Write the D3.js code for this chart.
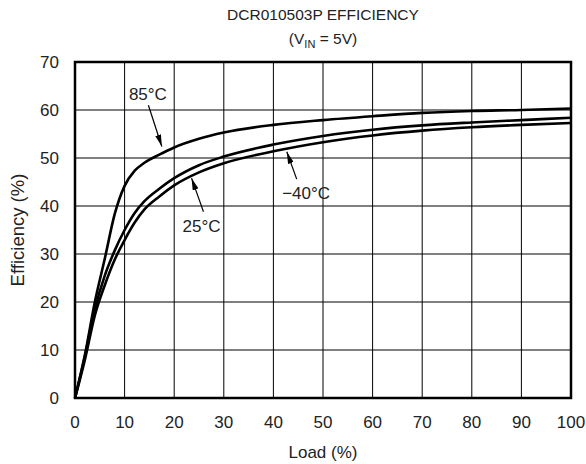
<!DOCTYPE html>
<html>
<head>
<meta charset="utf-8">
<script src="https://cdn.jsdelivr.net/npm/d3@7"></script>
<style>
  body { margin: 0; background: #fff; }
  text { font-family: "Liberation Sans", Arial, Helvetica, sans-serif; fill: #222; }
</style>
</head>
<body>
<div id="chart"></div>
<script>
/* Data */
const loads = [0, 2, 4, 6, 8, 10, 12, 14, 17, 20, 25, 30, 40, 50, 60, 70, 80, 90, 100];
const eff85 = [0, 9, 20, 29, 38.3, 44.2, 47.3, 49.0, 50.7, 52.2, 54, 55.3, 56.9, 57.9, 58.7, 59.4, 59.8, 60.0, 60.3];
const effM40 = [0, 8.7, 18.5, 25.5, 30.7, 35, 38.5, 41, 43.6, 45.8, 48.5, 50.3, 52.8, 54.6, 55.9, 56.8, 57.4, 57.9, 58.4];
const eff25 = [0, 8, 17.2, 23.5, 28.8, 32.9, 36.5, 39.3, 42, 44.3, 47, 48.9, 51.4, 53.3, 54.7, 55.7, 56.4, 56.9, 57.3];
const xTicks = [0, 10, 20, 30, 40, 50, 60, 70, 80, 90, 100];
const yTicks = [0, 10, 20, 30, 40, 50, 60, 70];

/* Annotation labels: text anchor point and arrow (from -> to), in data units */
const labels = ["85°C", "25°C", "\u221240°C"];
const labelPos = [[14.7, 62.1], [25.5, 34.6], [46.6, 41.4]];
const arrowFrom = [[14.8, 61.0], [25.9, 38.8], [44.7, 45.6]];
const arrowTo = [[17.5, 52.4], [23.5, 45.8], [42.7, 51.3]];

const W = 586, H = 464;
const margin = { left: 75, top: 62, right: 15, bottom: 66 };

const x = d3.scaleLinear().domain([0, 100]).range([margin.left, W - margin.right]);
const y = d3.scaleLinear().domain([0, 70]).range([H - margin.bottom, margin.top]);

const svg = d3.select("#chart").append("svg")
    .attr("width", W)
    .attr("height", H);

svg.append("defs").append("marker")
    .attr("id", "arrow")
    .attr("viewBox", "0 0 12 6")
    .attr("refX", 12)
    .attr("refY", 3)
    .attr("markerWidth", 12)
    .attr("markerHeight", 6)
    .attr("markerUnits", "userSpaceOnUse")
    .attr("orient", "auto")
    .append("path")
    .attr("d", "M0,0 L12,3 L0,6 Z")
    .attr("fill", "#000");

/* Grid */
svg.append("g").selectAll("line")
    .data(xTicks.slice(1, -1))
    .enter().append("line")
    .attr("x1", d => x(d)).attr("x2", d => x(d))
    .attr("y1", y(0)).attr("y2", y(70))
    .attr("stroke", "#000").attr("stroke-width", 1);

svg.append("g").selectAll("line")
    .data(yTicks.slice(1, -1))
    .enter().append("line")
    .attr("x1", x(0)).attr("x2", x(100))
    .attr("y1", d => y(d)).attr("y2", d => y(d))
    .attr("stroke", "#000").attr("stroke-width", 1);

/* Curves */
const line = d3.line()
    .x((d, i) => x(loads[i]))
    .y(d => y(d))
    .curve(d3.curveMonotoneX);

svg.append("g").selectAll("path")
    .data([eff85, effM40, eff25])
    .enter().append("path")
    .attr("d", line)
    .attr("fill", "none")
    .attr("stroke", "#000")
    .attr("stroke-width", 2.6);

/* Frame */
svg.append("rect")
    .attr("x", x(0)).attr("y", y(70))
    .attr("width", x(100) - x(0)).attr("height", y(0) - y(70))
    .attr("fill", "none").attr("stroke", "#000").attr("stroke-width", 2.5);

/* Tick labels */
svg.append("g").selectAll("text")
    .data(xTicks)
    .enter().append("text")
    .attr("x", d => x(d))
    .attr("y", y(0) + 30)
    .attr("text-anchor", "middle")
    .style("font-size", "17px")
    .text(d => d);

svg.append("g").selectAll("text")
    .data(yTicks)
    .enter().append("text")
    .attr("x", x(0) - 16)
    .attr("y", d => y(d))
    .attr("dy", "0.36em")
    .attr("text-anchor", "end")
    .style("font-size", "17px")
    .text(d => d);

/* Axis titles */
svg.append("text")
    .attr("x", (x(0) + x(100)) / 2)
    .attr("y", H - 6)
    .attr("text-anchor", "middle")
    .style("font-size", "17px")
    .text("Load (%)");

svg.append("text")
    .attr("transform", "translate(24," + (y(0) + y(70)) / 2 + ") rotate(-90)")
    .attr("text-anchor", "middle")
    .style("font-size", "18.5px")
    .text("Efficiency (%)");

/* Title */
svg.append("text")
    .attr("x", (x(0) + x(100)) / 2)
    .attr("y", 20)
    .attr("text-anchor", "middle")
    .style("font-size", "15.5px")
    .text("DCR010503P EFFICIENCY");

const sub = svg.append("text")
    .attr("x", (x(0) + x(100)) / 2)
    .attr("y", 44)
    .attr("text-anchor", "middle")
    .style("font-size", "15.5px");
sub.append("tspan").text("(V");
sub.append("tspan").attr("dy", 4).style("font-size", "11px").text("IN");
sub.append("tspan").attr("dy", -4).text(" = 5V)");

/* Annotations */
svg.append("g").selectAll("line")
    .data(labels)
    .enter().append("line")
    .attr("x1", (d, i) => x(arrowFrom[i][0]))
    .attr("y1", (d, i) => y(arrowFrom[i][1]))
    .attr("x2", (d, i) => x(arrowTo[i][0]))
    .attr("y2", (d, i) => y(arrowTo[i][1]))
    .attr("stroke", "#000")
    .attr("stroke-width", 1.2)
    .attr("marker-end", "url(#arrow)");

svg.append("g").selectAll("text")
    .data(labels)
    .enter().append("text")
    .attr("x", (d, i) => x(labelPos[i][0]))
    .attr("y", (d, i) => y(labelPos[i][1]))
    .attr("text-anchor", "middle")
    .style("font-size", "17px")
    .text(d => d);
</script>
</body>
</html>
